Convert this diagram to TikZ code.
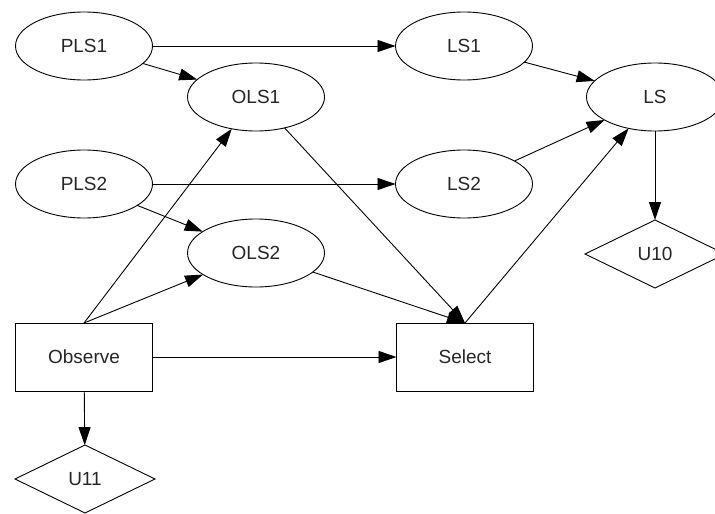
\documentclass[tikz,border=0pt]{standalone}
\usepackage{fontspec}
\setmainfont{Liberation Sans}
\usetikzlibrary{shapes.geometric,arrows.meta}
\begin{document}
\begin{tikzpicture}[x=1pt,y=-1pt,
  every node/.style={font=\fontsize{19}{22}\selectfont, text=black!85},
  chance/.style={ellipse, draw, line width=0.9pt, minimum width=137pt, minimum height=68pt, inner sep=0pt, outer sep=0pt},
  decision/.style={rectangle, draw, line width=0.9pt, minimum width=137pt, minimum height=68pt, inner sep=0pt, outer sep=0pt},
  utility/.style={diamond, draw, line width=0.9pt, minimum width=140pt, minimum height=68pt, aspect=2, inner sep=0pt, outer sep=0pt},
  link/.style={draw, line width=0.9pt, -{Triangle[length=18pt,width=12pt]}}]
\useasboundingbox (0,0) rectangle (715,514);
\fill[white] (0,0) rectangle (715,514);

% chance nodes
\node[chance] (PLS1) at (84,46)  {PLS1};
\node[chance] (LS1)  at (464,46) {LS1};
\node[chance] (OLS1) at (256,97) {OLS1};
\node[chance] (LS)   at (655,97) {LS};
\node[chance] (PLS2) at (84,184) {PLS2};
\node[chance] (LS2)  at (464,184) {LS2};
\node[chance] (OLS2) at (256,253) {OLS2};

% decisions
\node[decision] (Observe) at (84,357)  {Observe};
\node[decision] (Select)  at (465,357) {Select};

% utilities
\node[utility] (U10) at (655,254) {U10};
\node[utility] (U11) at (85,479)  {U11};

% links
\draw[link] (PLS1) -- (LS1);
\draw[link] (PLS1) -- (OLS1);
\draw[link] (LS1) -- (LS);
\draw[link] (PLS2) -- (LS2);
\draw[link] (PLS2) -- (OLS2);
\draw[link] (LS2) -- (LS);
\draw[link] (LS) -- (U10);
\draw[link] (OLS1) -- (Select.north);
\draw[link] (OLS2) -- (Select.north);
\draw[link] (Select.north) -- (LS);
\draw[link] (Observe.north) -- (OLS1);
\draw[link] (Observe.north) -- (OLS2);
\draw[link] (Observe) -- (Select);
\draw[link] (Observe) -- (U11);
\end{tikzpicture}
\end{document}
